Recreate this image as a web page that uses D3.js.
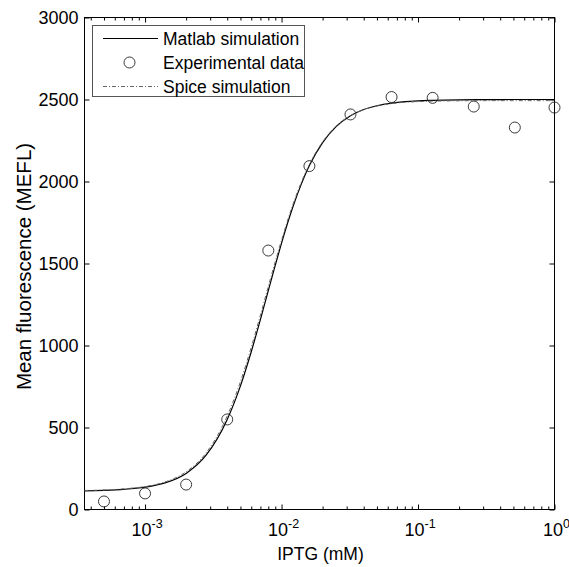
<!DOCTYPE html>
<html>
<head>
<meta charset="utf-8">
<script src="https://cdn.jsdelivr.net/npm/d3@7"></script>
<style>
  html, body { margin: 0; padding: 0; background: #fff; }
  svg { display: block; }
  text { font-family: "Liberation Sans", Arial, sans-serif; fill: #000; }
</style>
</head>
<body>
<svg id="chart" width="569" height="567"></svg>
<script>
// ---------- data ----------
const concentrations = [0.0005, 0.001, 0.002, 0.004, 0.008, 0.016, 0.032, 0.064, 0.128, 0.256, 0.512, 1.0];
const experimental   = [49, 98, 152, 549, 1579, 2094, 2409, 2515, 2510, 2457, 2329, 2451];

const simIPTG = [0.00036, 0.0005, 0.0007, 0.001, 0.0014, 0.002, 0.0028, 0.004, 0.005, 0.006, 0.007,
                 0.008, 0.009, 0.01, 0.012, 0.014, 0.016, 0.02, 0.025, 0.032, 0.04, 0.05, 0.064,
                 0.08, 0.1, 0.128, 0.2, 0.3, 0.5, 1.0];
const matlabSim = [114, 117, 123, 136, 162, 220, 331, 549, 754, 962, 1158,
                   1335, 1490, 1624, 1835, 1987, 2097, 2237, 2333, 2401, 2439, 2462, 2478,
                   2487, 2492, 2495, 2498, 2499, 2500, 2500];
const spiceSim  = [116, 119, 126, 140, 168, 230, 345, 570, 780, 990, 1185,
                   1360, 1512, 1642, 1850, 1998, 2105, 2242, 2336, 2402, 2438, 2460, 2475,
                   2483, 2487, 2490, 2492, 2493, 2493, 2493];

const yTicks = [0, 500, 1000, 1500, 2000, 2500, 3000];
const xMajorExponents = [-3, -2, -1, 0];
const xLabel = "IPTG (mM)";
const yLabel = "Mean fluorescence (MEFL)";
const legendLabels = ["Matlab simulation", "Experimental data", "Spice simulation"];

// ---------- layout ----------
const svg = d3.select("#chart");
const L = 84.5, R = 554.5, T = 17.5, B = 509.5;

const x = d3.scaleLog().domain([3.6e-4, 1]).range([L, R]);
const y = d3.scaleLinear().domain([0, 3000]).range([B, T]);

const xMajor = xMajorExponents.map(e => Math.pow(10, e));
const xMinor = [];
for (let e = -4; e <= -1; e++) {
  for (let k = 2; k <= 9; k++) {
    const v = k * Math.pow(10, e);
    if (v >= x.domain()[0] && v <= 1) xMinor.push(v);
  }
}

function styleAxis(g) {
  g.select(".domain").remove();
  g.selectAll(".tick line").attr("stroke", "#000").attr("stroke-width", 1);
  g.selectAll(".tick text").remove();
}

// ticks (inward)
svg.append("g").attr("transform", `translate(0,${B})`)
  .call(d3.axisBottom(x).tickValues(xMajor).tickSize(-5)).call(styleAxis);
svg.append("g").attr("transform", `translate(0,${B})`)
  .call(d3.axisBottom(x).tickValues(xMinor).tickSize(-3)).call(styleAxis);
svg.append("g").attr("transform", `translate(0,${T})`)
  .call(d3.axisTop(x).tickValues(xMajor).tickSize(-5)).call(styleAxis);
svg.append("g").attr("transform", `translate(0,${T})`)
  .call(d3.axisTop(x).tickValues(xMinor).tickSize(-3)).call(styleAxis);
svg.append("g").attr("transform", `translate(${L},0)`)
  .call(d3.axisLeft(y).tickValues(yTicks).tickSize(-5)).call(styleAxis);
svg.append("g").attr("transform", `translate(${R},0)`)
  .call(d3.axisRight(y).tickValues(yTicks).tickSize(-5)).call(styleAxis);

// box
svg.append("rect").attr("x", L).attr("y", T).attr("width", R - L).attr("height", B - T)
  .attr("fill", "none").attr("stroke", "#000").attr("stroke-width", 1);

// y tick labels
svg.append("g").selectAll("text").data(yTicks).join("text")
  .attr("x", L - 6).attr("y", d => y(d)).attr("dy", "0.36em")
  .attr("text-anchor", "end").attr("font-size", 18)
  .text(d => d);

// x tick labels with superscripts
const xl = svg.append("g").selectAll("text").data(xMajorExponents).join("text")
  .attr("x", d => x(Math.pow(10, d)) + 2).attr("y", 536)
  .attr("text-anchor", "middle").attr("font-size", 18);
xl.append("tspan").text("10");
xl.append("tspan").attr("font-size", 12.5).attr("dy", -8).text(d => d === 0 ? "0" : "-" + Math.abs(d));

// axis titles
svg.append("text").attr("x", (L + R) / 2 + 1).attr("y", 560).attr("text-anchor", "middle")
  .attr("font-size", 17.5).text(xLabel);
svg.append("text").attr("transform", `translate(31,${(T + B) / 2 + 3}) rotate(-90)`)
  .attr("text-anchor", "middle").attr("font-size", 20.5).text(yLabel);

// curves
const simData = (vals) => simIPTG.map((c, i) => [c, vals[i]]);
const line = d3.line().x(d => x(d[0])).y(d => y(d[1])).curve(d3.curveMonotoneX);

svg.append("path").datum(simData(matlabSim)).attr("d", line)
  .attr("fill", "none").attr("stroke", "#000").attr("stroke-width", 1.2);

svg.append("g").selectAll("circle").data(concentrations).join("circle")
  .attr("cx", d => x(d)).attr("cy", (d, i) => y(experimental[i])).attr("r", 5.5)
  .attr("fill", "none").attr("stroke", "#222").attr("stroke-width", 0.9);

svg.append("path").datum(simData(spiceSim)).attr("d", line)
  .attr("fill", "none").attr("stroke", "#666").attr("stroke-width", 1)
  .attr("stroke-dasharray", "4,2,1,2");

// legend
const lg = svg.append("g");
lg.append("rect").attr("x", 92.5).attr("y", 25.5).attr("width", 212).attr("height", 71)
  .attr("fill", "#fff").attr("stroke", "#555").attr("stroke-width", 1);
const rows = [38.5, 62.5, 86.5];
lg.append("line").attr("x1", 103).attr("x2", 158).attr("y1", rows[0]).attr("y2", rows[0])
  .attr("stroke", "#000").attr("stroke-width", 1.2);
lg.append("circle").attr("cx", 129.5).attr("cy", rows[1]).attr("r", 5.5)
  .attr("fill", "none").attr("stroke", "#222").attr("stroke-width", 0.9);
lg.append("line").attr("x1", 103).attr("x2", 158).attr("y1", rows[2]).attr("y2", rows[2])
  .attr("stroke", "#666").attr("stroke-width", 1).attr("stroke-dasharray", "4,2,1,2");
lg.selectAll("text.lab").data(legendLabels).join("text").attr("class", "lab")
  .attr("x", 163).attr("y", (d, i) => rows[i]).attr("dy", "0.36em")
  .attr("font-size", 17.5).text(d => d);
</script>
</body>
</html>
